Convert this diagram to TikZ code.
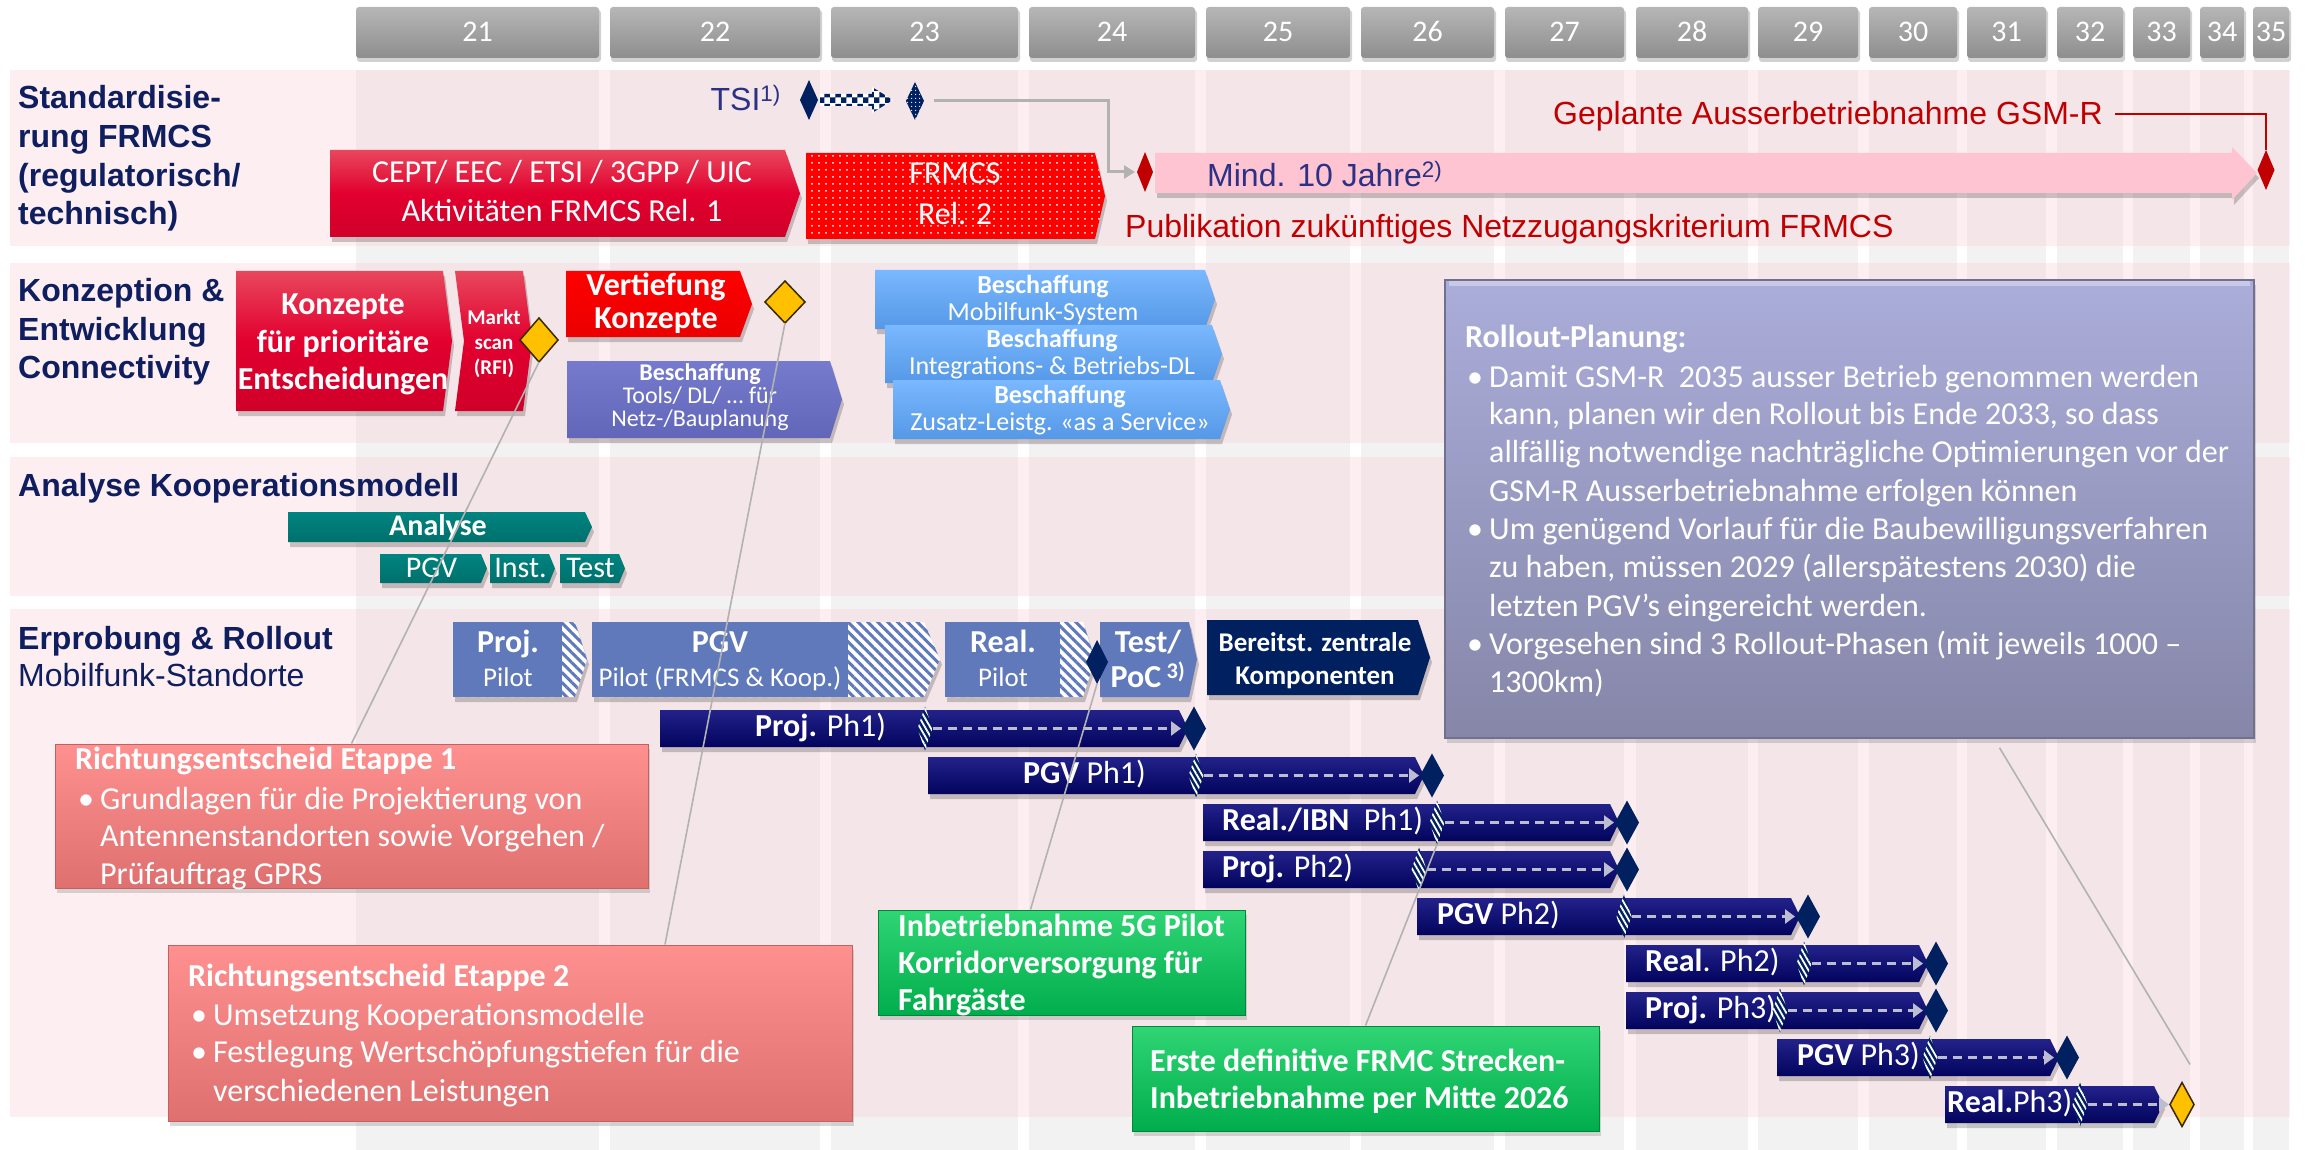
\documentclass[tikz,border=0pt]{standalone}
\usepackage{fontspec}
\setmainfont{Carlito}
\newfontfamily\arialf{Liberation Sans}
\usetikzlibrary{shapes.geometric,patterns,patterns.meta,arrows.meta,shadows}

\definecolor{lblnavy}{HTML}{0F1E5E}
\definecolor{tsiblue}{HTML}{2B3184}
\definecolor{darkred}{HTML}{C00000}
\definecolor{pinkbar}{HTML}{FFC4D1}
\definecolor{rowpink}{HTML}{FDEEF1}
\definecolor{colpink}{HTML}{F4E5E8}
\definecolor{colgrey}{HTML}{F2F2F2}
\definecolor{hdrtop}{HTML}{B6B6B6}
\definecolor{hdrbot}{HTML}{8E8E8E}
\definecolor{redtop}{HTML}{E8475C}
\definecolor{redmid}{HTML}{E2002F}
\definecolor{redbot}{HTML}{CF0029}
\definecolor{brightred}{HTML}{FF0000}
\definecolor{purplebox}{HTML}{6A6FC8}
\definecolor{bluetop}{HTML}{7AB8FF}
\definecolor{bluebot}{HTML}{5598E6}
\definecolor{tealtop}{HTML}{008480}
\definecolor{tealbot}{HTML}{00706C}
\definecolor{pilotblue}{HTML}{6079BA}
\definecolor{navybox}{HTML}{002060}
\definecolor{bartop}{HTML}{22228A}
\definecolor{barbot}{HTML}{03035E}
\definecolor{gold}{HTML}{FFC000}
\definecolor{goldedge}{HTML}{3A2800}
\definecolor{salmontop}{HTML}{FF9090}
\definecolor{salmonbot}{HTML}{DE7070}
\definecolor{salmonedge}{HTML}{C46060}
\definecolor{greentop}{HTML}{30D574}
\definecolor{greenbot}{HTML}{00AD4C}
\definecolor{greenedge}{HTML}{00873A}
\definecolor{rolltop}{HTML}{ABADDA}
\definecolor{rollbot}{HTML}{8586A8}
\definecolor{rolledge}{HTML}{70718F}
\definecolor{conngrey}{HTML}{B2B2B2}
\definecolor{dashgrey}{HTML}{BDBDD2}

\newcommand\fsz[2]{\fontsize{#1}{#2}\selectfont}
% box with a pointed right end: x1, y1, x2, y2, tip depth
\newcommand\chevp[5]{(#1,#2) -- ({#3-#5},#2) -- (#3,{(#2+#4)/2}) -- ({#3-#5},#4) -- (#1,#4) -- cycle}
% same with a notched left end
\newcommand\notchp[5]{(#1,#2) -- ({#3-#5},#2) -- (#3,{(#2+#4)/2}) -- ({#3-#5},#4) -- (#1,#4) -- ({#1+#5},{(#2+#4)/2}) -- cycle}

\tikzset{
  lbl/.style={anchor=mid west, inner sep=0, text=lblnavy, font=\arialf\bfseries\fsz{32}{38}},
  wt/.style={anchor=mid, inner sep=0, text=white},
  wtl/.style={anchor=mid west, inner sep=0, text=white},
  dmd/.style={diamond, inner sep=0, outer sep=0},
  shad/.style={fill=black, opacity=.2, xshift=2pt, yshift=-5pt},
  hatchdmd/.style={dmd, preaction={fill=navybox}, pattern={Lines[angle=-60,distance=4.5pt,line width=1.8pt]}, pattern color=white},
  dasharr/.style={draw=dashgrey, line width=3pt, dash pattern=on 9pt off 6pt, -{Triangle[length=10pt,width=14pt]}, shorten >=1pt},
  callout/.style={draw=conngrey, line width=1.6pt},
  boxhatch/.style={preaction={fill=white}, pattern={Lines[angle=-45,distance=7pt,line width=3pt]}, pattern color=pilotblue},
  golddmd/.style={dmd, fill=gold, draw=goldedge, line width=1.5pt},
  navydmd/.style={dmd, fill=navybox},
  bartext/.style={wtl, font=\fsz{32}{38}},
}

% phase bar: id, x1, x2, top y, hatch x, end x, text x, text, end-diamond style
\newcommand\phasebar[9]{%
  \fill[shad] \chevp{#2}{#4}{#3}{#4+37}{9};
  \shade[top color=bartop, bottom color=barbot] \chevp{#2}{#4}{#3}{#4+37}{9};
  \node[bartext] (pt#1) at (#7,#4+18.5) {#8};
  \node[hatchdmd, minimum width=15, minimum height=44] (ph#1) at (#5,#4+18.5) {};
  \node[#9, minimum width=24, minimum height=44] (pe#1) at (#6,#4+18.5) {};
  \draw[dasharr] (ph#1.east) -- (pe#1.west);
}

\begin{document}
% the surrounding font fixes the size of 1ex used by the mid anchors
\fsz{32}{38}%
\begin{tikzpicture}[x=1pt,y=-1pt]
\useasboundingbox (0,0) rectangle (2305,1150);
\fill[white] (0,0) rectangle (2305,1150);

% ---------- background grid ----------
\def\cols{356/599,610/820,831/1018,1029/1195,1206/1350,1361/1494,1505/1624,1636/1748,1758/1858,1869/1957,1967/2046,2057/2123,2133/2190,2200/2244,2253/2289}
\foreach \a/\b in \cols { \fill[colgrey] (\a,70) rectangle (\b,1150); }
\foreach \t/\u in {70/246,263/443,457/596,609/1117} {
  \fill[rowpink] (10,\t) rectangle (2290,\u);
  \foreach \a/\b in \cols { \fill[colpink] (\a,\t) rectangle (\b,\u); }
}

% ---------- year header ----------
\foreach \a/\b/\n in {356/599/21,610/820/22,831/1018/23,1029/1195/24,1206/1350/25,1361/1494/26,1505/1624/27,1636/1748/28,1758/1858/29,1869/1957/30,1967/2046/31,2057/2123/32,2133/2190/33,2200/2244/34,2253/2289/35} {
  \fill[black,opacity=.18,rounded corners=3pt] (\a+1,10) rectangle (\b+2,62);
  \shade[top color=hdrtop,bottom color=hdrbot,rounded corners=3pt] (\a,7) rectangle (\b,58);
  \node[wt,font=\fsz{30}{36}] (yr\n) at ({(\a+\b)/2},34) {\n};
}

% ---------- row labels ----------
\node[lbl] (l1a) at (18,101) {Standardisie-};
\node[lbl] (l1b) at (18,140) {rung FRMCS};
\node[lbl] (l1c) at (18,179) {(regulatorisch/};
\node[lbl] (l1d) at (18,217) {technisch)};
\node[lbl] (l2a) at (18,294) {Konzeption \&};
\node[lbl] (l2b) at (18,333) {Entwicklung};
\node[lbl] (l2c) at (18,371) {Connectivity};
\node[lbl] (l3a) at (18,489) {Analyse Kooperationsmodell};
\node[lbl] (l4a) at (18,642) {Erprobung \& Rollout};
\node[lbl,font=\arialf\fsz{32}{38}] (l4b) at (18,679) {Mobilfunk-Standorte};

% ---------- row 1: standardisation ----------
\node[anchor=mid east, inner sep=0, text=tsiblue, font=\arialf\fsz{32}{38}] (tsi) at (781,103) {TSI\textsuperscript{1)}};
\node[navydmd, minimum width=18, minimum height=40] (tsiA) at (809,100) {};
\path[preaction={fill=white}, pattern=checkerboard, pattern color=navybox]
  ([xshift=2pt]tsiA.east) ++(0,-6) -- ++(52,0) -- ++(0,-7) -- ++(21,13) -- ++(-21,13) -- ++(0,-7) -- ++(-52,0) -- cycle;
\node[dmd, minimum width=18, minimum height=38, preaction={fill=navybox}, pattern={Dots[distance=4pt,radius=.8pt]}, pattern color=white] (tsiB) at (915,101) {};

\node[dmd, fill=darkred, minimum width=16, minimum height=40] (pubA) at (1145,172) {};
\draw[draw=conngrey, line width=3pt, -{Triangle[length=11pt,width=13pt]}]
  ([xshift=10pt]tsiB.east) -| ([xshift=-29pt]pubA.west) -- ([xshift=-2pt]pubA.west);

\fill[shad] (1155,153) -- (2232,153) -- (2232,147) -- (2257,173) -- (2232,200) -- (2232,193) -- (1155,193) -- cycle;
\fill[pinkbar] (1155,153) -- (2232,153) -- (2232,147) -- (2257,173) -- (2232,200) -- (2232,193) -- (1155,193) -- cycle;
\node[anchor=mid west, inner sep=0, text=tsiblue, font=\arialf\fsz{32}{38}] (mind) at (1207,179) {Mind. 10 Jahre\textsuperscript{2)}};

\node[dmd, fill=darkred, minimum width=17, minimum height=40] (gsmA) at (2266,170) {};
\node[anchor=mid east, inner sep=0, text=darkred, font=\arialf\fsz{32}{38}] (gsm) at (2103,117) {Geplante Ausserbetriebnahme GSM-R};
\draw[darkred, line width=2pt] ([xshift=12pt,yshift=2pt]gsm.east) -| (gsmA.north);
\node[anchor=mid west, inner sep=0, text=darkred, font=\arialf\fsz{32}{38}] (pub) at (1125,230) {Publikation zukünftiges Netzzugangskriterium FRMCS};

\fill[shad] \chevp{330}{150}{800}{237}{15};
\shade[top color=redtop, bottom color=redbot, middle color=redmid] \chevp{330}{150}{800}{237}{15};
\node[wt,font=\fsz{32}{38}] (cept1) at (562,175) {CEPT/ EEC / ETSI / 3GPP / UIC};
\node[wt,font=\fsz{32}{38}] (cept2) at (562,214) {Aktivitäten FRMCS Rel. 1};

\fill[shad] \chevp{806}{153}{1105}{239}{10};
\path[preaction={fill=brightred}, pattern={Dots[distance=7pt,radius=1pt]}, pattern color=white] \chevp{806}{153}{1105}{239}{10};
\node[wt,font=\fsz{32}{38}] (rel2a) at (955,176) {FRMCS};
\node[wt,font=\fsz{32}{38}] (rel2b) at (955,217) {Rel. 2};

% ---------- row 2: concepts ----------
\fill[shad] \chevp{236}{271}{452}{411}{9};
\shade[top color=redtop, bottom color=redbot, middle color=redmid] \chevp{236}{271}{452}{411}{9};
\node[wt,font=\bfseries\fsz{32}{38}] (k1) at (343,307) {Konzepte};
\node[wt,font=\bfseries\fsz{32}{38}] (k2) at (343,345) {für prioritäre};
\node[wt,font=\bfseries\fsz{32}{38}] (k3) at (343,382) {Entscheidungen};

\fill[shad] \notchp{455}{271}{532}{411}{9};
\shade[top color=redtop, bottom color=redbot, middle color=redmid] \notchp{455}{271}{532}{411}{9};
\node[wt,font=\bfseries\fsz{21}{25}] (m1) at (494,317) {Markt};
\node[wt,font=\bfseries\fsz{21}{25}] (m2) at (494,342) {scan};
\node[wt,font=\bfseries\fsz{21}{25}] (m3) at (494,367) {(RFI)};
\node[golddmd, minimum width=38, minimum height=44] (rfi) at (539,340) {};

\fill[shad] \chevp{566}{271}{752}{337}{12};
\shade[top color=brightred, bottom color=brightred!92!black] \chevp{566}{271}{752}{337}{12};
\node[wt,font=\bfseries\fsz{32}{38}] (v1) at (656,288) {Vertiefung};
\node[wt,font=\bfseries\fsz{32}{38}] (v2) at (656,321) {Konzepte};
\node[golddmd, minimum width=40, minimum height=42] (vk) at (785,302) {};

\fill[shad] \chevp{567}{361}{842}{438}{12};
\shade[top color=purplebox!92!white, bottom color=purplebox!92!black] \chevp{567}{361}{842}{438}{12};
\node[wt,font=\bfseries\fsz{24}{28}] (p1) at (700,373) {Beschaffung};
\node[wt,font=\fsz{24}{28}] (p2) at (700,396) {Tools/ DL/ … für};
\node[wt,font=\fsz{24}{28}] (p3) at (700,419) {Netz-/Bauplanung};

\fill[shad] \chevp{875}{270}{1215}{329}{10};
\shade[top color=bluetop, bottom color=bluebot] \chevp{875}{270}{1215}{329}{10};
\node[wt,font=\bfseries\fsz{26}{30}] (b1a) at (1043,286) {Beschaffung};
\node[wt,font=\fsz{26}{30}] (b1b) at (1043,313) {Mobilfunk-System};
\fill[shad] \chevp{885}{325}{1222}{383}{10};
\shade[top color=bluetop, bottom color=bluebot] \chevp{885}{325}{1222}{383}{10};
\node[wt,font=\bfseries\fsz{26}{30}] (b2a) at (1052,340) {Beschaffung};
\node[wt,font=\fsz{26}{30}] (b2b) at (1052,367) {Integrations- \& Betriebs-DL};
\fill[shad] \chevp{893}{380}{1230}{439}{10};
\shade[top color=bluetop, bottom color=bluebot] \chevp{893}{380}{1230}{439}{10};
\node[wt,font=\bfseries\fsz{26}{30}] (b3a) at (1060,396) {Beschaffung};
\node[wt,font=\fsz{26}{30}] (b3b) at (1060,423) {Zusatz-Leistg. «as a Service»};

% ---------- rollout planning note ----------
\node[top color=rolltop, bottom color=rollbot, draw=rolledge, line width=1.5pt, minimum width=809, minimum height=458, inner sep=0,
      drop shadow={opacity=.3,shadow xshift=2pt,shadow yshift=-5pt}] (roll) at (1849.5,509) {};
\draw[white, opacity=.35, line width=5pt] (1449,284) -- (2250,284);
\node[wtl,font=\bfseries\fsz{32}{38}] (rtitle) at (1465,340) {Rollout-Planung:};
\foreach \y [count=\i] in {380,532,647} { \node[wtl,font=\fsz{32}{38}] (rb\i) at (1467,\y) {•}; }
\foreach \y/\t [count=\i] in {
  380/{Damit GSM-R\ \ 2035 ausser Betrieb genommen werden},
  417/{kann, planen wir den Rollout bis Ende 2033, so dass},
  455/{allfällig notwendige nachträgliche Optimierungen vor der},
  494/{GSM-R Ausserbetriebnahme erfolgen können},
  532/{Um genügend Vorlauf für die Baubewilligungsverfahren},
  570/{zu haben, müssen 2029 (allerspätestens 2030) die},
  609/{letzten PGV’s eingereicht werden.},
  647/{Vorgesehen sind 3 Rollout-Phasen (mit jeweils 1000 –},
  685/{1300km)}} {
  \node[wtl,font=\fsz{32}{38}] (rl\i) at (1489,\y) {\t};
}

% ---------- row 3: cooperation model ----------
\fill[shad] \chevp{288}{512}{592}{542}{7};
\shade[top color=tealtop, bottom color=tealbot] \chevp{288}{512}{592}{542}{7};
\node[wt,font=\bfseries\fsz{30}{36}] (an) at (438,528) {Analyse};
\foreach \a/\b/\t/\n in {380/487/PGV/1, 490/555/Inst./2, 560/625/Test/3} {
  \fill[shad] \chevp{\a}{554}{\b}{583}{6};
  \shade[top color=tealtop, bottom color=tealbot] \chevp{\a}{554}{\b}{583}{6};
  \node[wt,font=\fsz{30}{36}] (an\n) at ({(\a+\b)/2-2},570) {\t};
}

% ---------- row 4: pilots ----------
\fill[shad] \chevp{453}{622}{587}{697}{12};
\path[boxhatch] \chevp{453}{622}{587}{697}{12};
\fill[pilotblue] (453,622) rectangle (562,697);
\node[wt,font=\bfseries\fsz{32}{38}] (pp1) at (508,645) {Proj.};
\node[wt,font=\fsz{27}{32}] (pp2) at (508,679) {Pilot};

\fill[shad] \chevp{592}{622}{940}{697}{16};
\path[boxhatch] \chevp{592}{622}{940}{697}{16};
\fill[pilotblue] (592,622) rectangle (848,697);
\node[wt,font=\bfseries\fsz{32}{38}] (pg1) at (720,645) {PGV};
\node[wt,font=\fsz{27}{32}] (pg2) at (720,679) {Pilot (FRMCS \& Koop.)};

\fill[shad] \chevp{945}{622}{1095}{697}{12};
\path[boxhatch] \chevp{945}{622}{1095}{697}{12};
\fill[pilotblue] (945,622) rectangle (1060,697);
\node[wt,font=\bfseries\fsz{32}{38}] (pr1) at (1003,645) {Real.};
\node[wt,font=\fsz{27}{32}] (pr2) at (1003,679) {Pilot};

\fill[shad] \chevp{1100}{622}{1197}{697}{8};
\fill[pilotblue] \chevp{1100}{622}{1197}{697}{8};
\node[wt,font=\bfseries\fsz{32}{38}] (tp1) at (1148,645) {Test/};
\node[wt,font=\bfseries\fsz{32}{38}] (tp2) at (1148,680) {PoC\,\textsuperscript{3)}};
\node[navydmd, minimum width=22, minimum height=44] (pilotD) at (1097,662) {};

\fill[shad] \chevp{1207}{620}{1430}{695}{12};
\fill[navybox] \chevp{1207}{620}{1430}{695}{12};
\node[wt,font=\bfseries\fsz{27}{32}] (bz1) at (1315,644) {Bereitst. zentrale};
\node[wt,font=\bfseries\fsz{27}{32}] (bz2) at (1315,677) {Komponenten};

% ---------- row 4: rollout phases ----------
\phasebar{1}{660}{1188}{710}{925}{1194}{755}{\textbf{Proj.} Ph1)}{navydmd}
\phasebar{2}{928}{1424}{757}{1196}{1432}{1023}{\textbf{PGV} Ph1)}{navydmd}
\phasebar{3}{1203}{1619}{804}{1437}{1627}{1222}{\textbf{Real./IBN}\ \ Ph1)}{navydmd}
\phasebar{4}{1203}{1619}{851}{1419}{1627}{1222}{\textbf{Proj.} Ph2)}{navydmd}
\phasebar{5}{1417}{1800}{898}{1624}{1808}{1437}{\textbf{PGV} Ph2)}{navydmd}
\phasebar{6}{1626}{1928}{945}{1804}{1936}{1645}{\textbf{Real}. Ph2)}{navydmd}
\phasebar{7}{1626}{1928}{992}{1780}{1936}{1645}{\textbf{Proj.} Ph3)}{navydmd}
\phasebar{8}{1777}{2059}{1039}{1930}{2067}{1797}{\textbf{PGV} Ph3)}{navydmd}
\phasebar{9}{1945}{2163}{1086}{2080}{2182}{1947}{\textbf{Real.}Ph3)}{golddmd}

% ---------- decision call-outs ----------
\node[top color=salmontop, bottom color=salmonbot, draw=salmonedge, line width=1pt, minimum width=593, minimum height=144, inner sep=0,
      drop shadow={opacity=.3,shadow xshift=2pt,shadow yshift=-5pt}] (et1) at (351.5,816) {};
\node[wtl,font=\bfseries\fsz{32}{38}] (et1t) at (75,762) {Richtungsentscheid Etappe 1};
\node[wtl,font=\fsz{32}{38}] (et1b) at (78,802) {•};
\node[wtl,font=\fsz{32}{38}] (et1l1) at (100,802) {Grundlagen für die Projektierung von};
\node[wtl,font=\fsz{32}{38}] (et1l2) at (100,839) {Antennenstandorten sowie Vorgehen /};
\node[wtl,font=\fsz{32}{38}] (et1l3) at (100,877) {Prüfauftrag GPRS};

\node[top color=salmontop, bottom color=salmonbot, draw=salmonedge, line width=1pt, minimum width=684, minimum height=176, inner sep=0,
      drop shadow={opacity=.3,shadow xshift=2pt,shadow yshift=-5pt}] (et2) at (510,1033) {};
\node[wtl,font=\bfseries\fsz{32}{38}] (et2t) at (188,979) {Richtungsentscheid Etappe 2};
\node[wtl,font=\fsz{32}{38}] (et2b1) at (191,1018) {•};
\node[wtl,font=\fsz{32}{38}] (et2l1) at (213,1018) {Umsetzung Kooperationsmodelle};
\node[wtl,font=\fsz{32}{38}] (et2b2) at (191,1055) {•};
\node[wtl,font=\fsz{32}{38}] (et2l2) at (213,1055) {Festlegung Wertschöpfungstiefen für die};
\node[wtl,font=\fsz{32}{38}] (et2l3) at (213,1094) {verschiedenen Leistungen};

\node[top color=greentop, bottom color=greenbot, draw=greenedge, line width=1pt, minimum width=367, minimum height=105, inner sep=0,
      drop shadow={opacity=.3,shadow xshift=2pt,shadow yshift=-5pt}] (g1) at (1061.5,962.5) {};
\node[wtl,font=\bfseries\fsz{32}{38}] (g1a) at (898,929) {Inbetriebnahme 5G Pilot};
\node[wtl,font=\bfseries\fsz{32}{38}] (g1b) at (898,966) {Korridorversorgung für};
\node[wtl,font=\bfseries\fsz{32}{38}] (g1c) at (898,1003) {Fahrgäste};

\node[top color=greentop, bottom color=greenbot, draw=greenedge, line width=1pt, minimum width=467, minimum height=105, inner sep=0,
      drop shadow={opacity=.3,shadow xshift=2pt,shadow yshift=-5pt}] (g2) at (1365.5,1078.5) {};
\node[wtl,font=\bfseries\fsz{32}{38}] (g2a) at (1150,1064) {Erste definitive FRMC Strecken-};
\node[wtl,font=\bfseries\fsz{32}{38}] (g2b) at (1150,1101) {Inbetriebnahme per Mitte 2026};

% ---------- call-out leader lines ----------
\draw[callout] (et1.north) -- (rfi.south);
\draw[callout] ([xshift=155pt]et2.north) -- (vk.south);
\draw[callout] ([xshift=-31pt]g1.north) -- (pilotD.south);
\draw[callout] (g2.north) -- (ph3.south);
\draw[callout] ([xshift=150pt,yshift=-9pt]roll.south) -- ([xshift=8pt,yshift=18pt]pe9.north);
\end{tikzpicture}
\end{document}
